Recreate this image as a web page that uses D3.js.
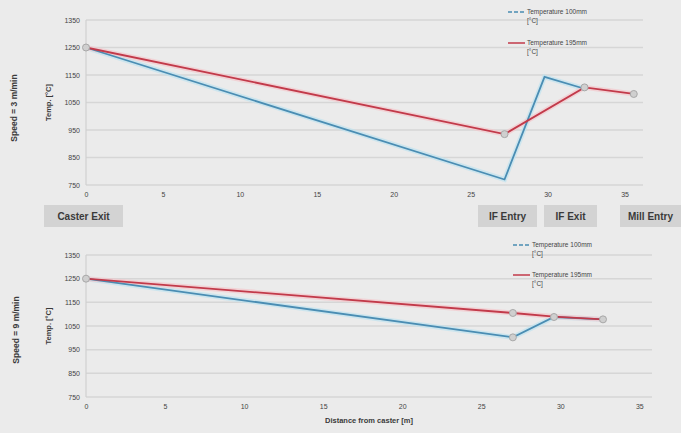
<!DOCTYPE html>
<html><head><meta charset="utf-8">
<script src="https://cdn.jsdelivr.net/npm/d3@7"></script>
<style>body{margin:0;background:#ebebeb;}svg{display:block;font-family:"Liberation Sans",Arial,sans-serif;}</style>
</head><body><svg id="c" width="681" height="433"></svg>
<script>
// Data
const yTicks = [750, 850, 950, 1050, 1150, 1250, 1350];
const xTicks = [0, 5, 10, 15, 20, 25, 30, 35];
const seriesNames = ["Temperature 100mm [°C]", "Temperature 195mm [°C]"];
const speedLabels = ["Speed = 3 m/min", "Speed = 9 m/min"];
const stations = ["Caster Exit", "IF Entry", "IF Exit", "Mill Entry"];

const top100X = [0, 27.2, 29.8, 32.4];
const top100Y = [1250, 770, 1143, 1100];
const top195X = [0, 27.2, 32.4, 35.6];
const top195Y = [1250, 935, 1105, 1081];

const bot100X = [0, 27, 29.6, 32.7];
const bot100Y = [1250, 1002, 1088, 1078];
const bot195X = [0, 27, 29.6, 32.7];
const bot195Y = [1250, 1105, 1090, 1078];

const svg = d3.select("#c");
const blue = "#4a8db3", red = "#c23a4a";

function panel(cfg){
  const x = d3.scaleLinear().domain([0, cfg.xmax]).range([86, cfg.right]);
  const y = d3.scaleLinear().domain([750, 1350]).range([cfg.bottom, cfg.top]);
  const g = svg.append("g");
  g.selectAll("line.grid").data(yTicks).join("line")
    .attr("x1", x(0)).attr("x2", cfg.right)
    .attr("y1", d=>y(d)).attr("y2", d=>y(d))
    .attr("stroke", "#d6d6d6").attr("stroke-width", 1.5);
  g.append("line").attr("x1", x(0)).attr("x2", x(0)).attr("y1", cfg.top).attr("y2", cfg.bottom)
    .attr("stroke", "#d0d0d0").attr("stroke-width", 1.2);
  const ya = g.append("g").attr("transform", `translate(${x(0)-4},0)`)
    .call(d3.axisLeft(y).tickValues(yTicks).tickFormat(d3.format("d")).tickSize(0).tickPadding(2));
  ya.select(".domain").remove();
  ya.selectAll("text").attr("font-size", 7).attr("fill", "#444");
  const xa = g.append("g").attr("transform", `translate(0,${cfg.bottom+4})`)
    .call(d3.axisBottom(x).tickValues(xTicks).tickFormat(d3.format("d")).tickSize(0).tickPadding(3));
  xa.select(".domain").remove();
  xa.selectAll("text").attr("font-size", 7).attr("fill", "#444");
  const mid = (cfg.top+cfg.bottom)/2;
  g.append("text").attr("transform", `translate(51,${mid}) rotate(-90)`)
    .attr("text-anchor","middle").attr("font-size",7.5).attr("fill","#3a3a3a").attr("font-weight","bold").text("Temp. [°C]");
  g.append("text").attr("transform", `translate(${cfg.speedX},${cfg.speedY}) rotate(-90)`)
    .attr("text-anchor","middle").attr("font-size",8.5).attr("fill","#3a3a3a").attr("font-weight","bold").text(cfg.speed);
  const line = d3.line().x(d=>x(d[0])).y(d=>y(d[1]));
  const s100 = cfg.x100.map((v,i)=>[v, cfg.y100[i]]);
  const s195 = cfg.x195.map((v,i)=>[v, cfg.y195[i]]);
  [[s100, "#bfe3ef"],[s195,"#f3c7cc"]].forEach(([s,c])=>{
    g.append("path").attr("d", line(s)).attr("fill","none").attr("stroke",c).attr("stroke-width",5).attr("opacity",0.7);
  });
  g.append("path").attr("d", line(s100)).attr("fill","none").attr("stroke",blue).attr("stroke-width",1.8);
  g.append("path").attr("d", line(s195)).attr("fill","none").attr("stroke",red).attr("stroke-width",1.8);
  const marks = cfg.markers.map(m => m[0]==="b" ? s100[m[1]] : s195[m[1]]);
  g.selectAll("circle.m").data(marks).join("circle")
    .attr("cx", d=>x(d[0])).attr("cy", d=>y(d[1])).attr("r", 3.5)
    .attr("fill", "#cfcfcf").attr("stroke", "#a8a8a8").attr("stroke-width", 1);
  const lg = g.append("g");
  seriesNames.forEach((n,i)=>{
    const ly = cfg.legY + i*cfg.legGap;
    lg.append("line").attr("x1", cfg.legX).attr("x2", cfg.legX+17).attr("y1", ly-2).attr("y2", ly-2)
      .attr("stroke", i===0?blue:red).attr("stroke-width", 1.5).attr("stroke-dasharray", i===0?"4,2":null);
    const t = lg.append("text").attr("x", cfg.legX+19).attr("y", ly).attr("font-size", 6.5).attr("fill","#444");
    const parts = n.split(" [");
    t.append("tspan").text(parts[0]);
    t.append("tspan").attr("x", cfg.legX+19).attr("dy", 9).text("[" + parts[1]);
  });
  return x;
}

panel({xmax:36.2, right:643, top:20, bottom:185, x100:top100X, y100:top100Y, x195:top195X, y195:top195Y,
  markers:[["r",0],["r",1],["r",2],["r",3]], legX:508, legY:14, legGap:31, speed:speedLabels[0], speedX:17, speedY:108});
panel({xmax:35.8, right:652, top:255, bottom:397, x100:bot100X, y100:bot100Y, x195:bot195X, y195:bot195Y,
  markers:[["r",0],["r",1],["b",1],["b",2],["r",3]], legX:513, legY:247, legGap:30, speed:speedLabels[1], speedX:19, speedY:330});

svg.append("text").attr("x", 369).attr("y", 423).attr("text-anchor","middle").attr("font-size",7.5)
  .attr("font-weight","bold").attr("fill","#3a3a3a").text("Distance from caster [m]");

const boxes = [[44,123],[478,537],[544,597],[620,681]];
stations.forEach((s,i)=>{
  const [a,b] = boxes[i];
  svg.append("rect").attr("x",a).attr("y",205).attr("width",b-a).attr("height",22).attr("fill","#d3d3d3");
  svg.append("text").attr("x",(a+b)/2).attr("y",220).attr("text-anchor","middle").attr("font-size",10)
    .attr("font-weight","bold").attr("fill","#3a3a3a").text(s);
});
</script></body></html>
